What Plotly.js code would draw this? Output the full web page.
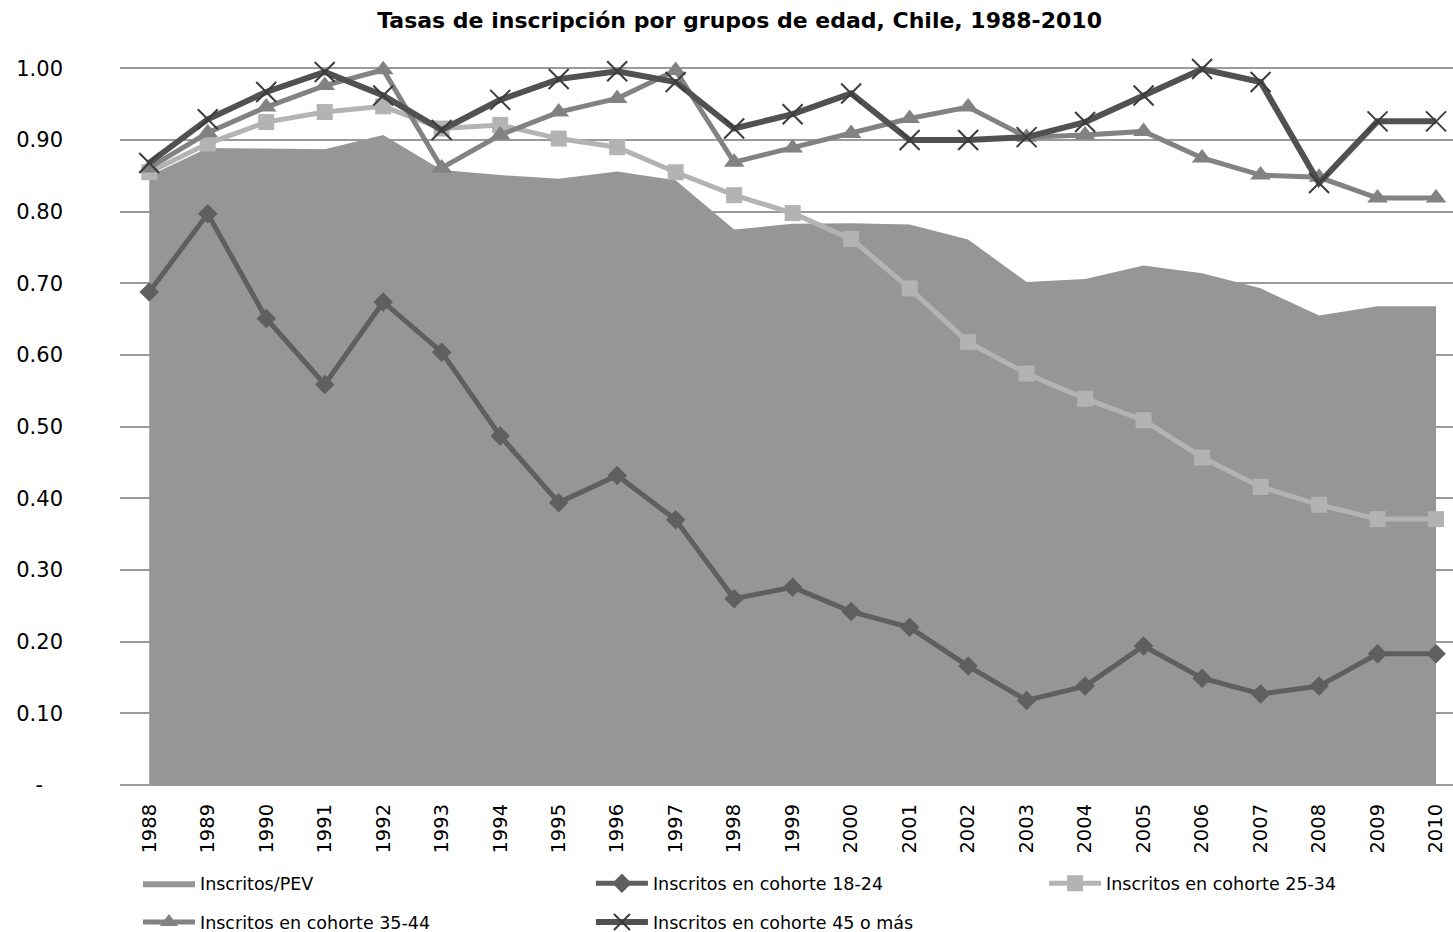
<!DOCTYPE html>
<html>
<head>
<meta charset="utf-8">
<script src="https://cdn.plot.ly/plotly-3.0.1.min.js"></script>
<style>
  html, body { margin: 0; padding: 0; background: #fff; }
  #chart { width: 1453px; height: 932px; }
</style>
</head>
<body>
<div id="chart"></div>
<script>
const years = ['1988','1989','1990','1991','1992','1993','1994','1995','1996','1997','1998',
  '1999','2000','2001','2002','2003','2004','2005','2006','2007','2008','2009','2010']

// Inscritos/PEV (area)
const pev = [0.850, 0.889, 0.888, 0.887, 0.907, 0.858, 0.851, 0.846, 0.856, 0.844, 0.775,
  0.783, 0.784, 0.782, 0.761, 0.702, 0.706, 0.725, 0.714, 0.693, 0.655, 0.668, 0.668]
const cohorte_18_24 = [0.688, 0.797, 0.651, 0.559, 0.674, 0.604, 0.487, 0.394, 0.432, 0.370, 0.260,
  0.276, 0.242, 0.220, 0.166, 0.118, 0.138, 0.194, 0.149, 0.127, 0.138, 0.183, 0.183]
const cohorte_25_34 = [0.855, 0.895, 0.925, 0.939, 0.947, 0.916, 0.921, 0.902, 0.890, 0.855, 0.823,
  0.798, 0.762, 0.693, 0.618, 0.574, 0.539, 0.509, 0.457, 0.416, 0.391, 0.371, 0.371]
const cohorte_35_44 = [0.861, 0.910, 0.946, 0.976, 0.998, 0.861, 0.907, 0.939, 0.958, 0.997, 0.869,
  0.889, 0.909, 0.930, 0.946, 0.904, 0.907, 0.912, 0.875, 0.851, 0.848, 0.819, 0.819]
const cohorte_45 = [0.868, 0.929, 0.967, 0.995, 0.962, 0.914, 0.956, 0.985, 0.996, 0.981, 0.916,
  0.936, 0.965, 0.900, 0.900, 0.904, 0.925, 0.962, 0.999, 0.981, 0.840, 0.926, 0.926]

const y_ticks = [0, 0.1, 0.2, 0.3, 0.4, 0.5, 0.6, 0.7, 0.8, 0.9, 1.0]
const y_ticktext = ['-\u00a0\u00a0\u00a0', '0.10', '0.20', '0.30', '0.40', '0.50', '0.60', '0.70', '0.80', '0.90', '1.00']

const font_family = 'DejaVu Sans, sans-serif'

var data = [
  {
    x: years, y: pev, name: 'Inscritos/PEV', type: 'scatter', mode: 'lines',
    fill: 'tozeroy', fillcolor: '#969696', line: {width: 0, color: '#969696'},
    legend: 'legend', legendgroup: 'a'
  },
  {
    x: years, y: cohorte_18_24, name: 'Inscritos en cohorte 18-24', type: 'scatter', mode: 'lines+markers',
    line: {color: '#5f5f5f', width: 5},
    marker: {symbol: 'diamond', size: 15, color: '#5f5f5f'},
    cliponaxis: false, legend: 'legend2', legendgroup: 'b'
  },
  {
    x: years, y: cohorte_25_34, name: 'Inscritos en cohorte 25-34', type: 'scatter', mode: 'lines+markers',
    line: {color: '#b3b3b3', width: 5},
    marker: {symbol: 'square', size: 16, color: '#b3b3b3'},
    cliponaxis: false, legend: 'legend3', legendgroup: 'c'
  },
  {
    x: years, y: cohorte_35_44, name: 'Inscritos en cohorte 35-44', type: 'scatter', mode: 'lines+markers',
    line: {color: '#828282', width: 5},
    marker: {symbol: 'triangle-up', size: 18, color: '#828282'},
    cliponaxis: false, legend: 'legend', legendgroup: 'd'
  },
  {
    x: years, y: cohorte_45, name: 'Inscritos en cohorte 45 o más', type: 'scatter', mode: 'lines+markers',
    line: {color: '#515151', width: 6},
    marker: {symbol: 'x-thin', size: 20, line: {color: '#3c3c3c', width: 2}},
    cliponaxis: false, legend: 'legend2', legendgroup: 'e'
  }
]

const legend_base = {
  orientation: 'v', yref: 'container', y: 0.0715, yanchor: 'top', xanchor: 'left',
  font: {family: font_family, size: 17.5, color: '#000'},
  itemwidth: 52,
  tracegroupgap: 13, bgcolor: 'rgba(0,0,0,0)', borderwidth: 0
}

var layout = {
  width: 1453,
  height: 932,
  paper_bgcolor: '#fff',
  plot_bgcolor: '#fff',
  font: {family: font_family, color: '#000'},
  title: {
    text: '<b>Tasas de inscripción por grupos de edad, Chile, 1988-2010</b>',
    font: {family: font_family, size: 22, color: '#000'},
    x: 0.509, xref: 'container', xanchor: 'center',
    y: 0.978, yref: 'container', yanchor: 'middle'
  },
  margin: {l: 120, r: 0, t: 54, b: 147},
  showlegend: true,
  legend: Object.assign({}, legend_base, {x: 0.0135}),
  legend2: Object.assign({}, legend_base, {x: 0.3533}),
  legend3: Object.assign({}, legend_base, {x: 0.6932}),
  xaxis: {
    type: 'category',
    range: [-0.5, 22.29],
    showgrid: false, showline: false, zeroline: false,
    ticks: '', tickangle: -90,
    ticklabelstandoff: 14,
    tickfont: {family: font_family, size: 19.5, color: '#000'}
  },
  yaxis: {
    range: [0, 1.02],
    tickvals: y_ticks, ticktext: y_ticktext,
    showgrid: true, gridcolor: '#9a9a9a', gridwidth: 2,
    zeroline: true, zerolinecolor: '#9a9a9a', zerolinewidth: 2,
    showline: false, ticks: '',
    ticklabelstandoff: 56,
    tickfont: {family: font_family, size: 21, color: '#000'}
  }
}

Plotly.newPlot('chart', data, layout, {displayModeBar: false})
</script>
</body>
</html>
